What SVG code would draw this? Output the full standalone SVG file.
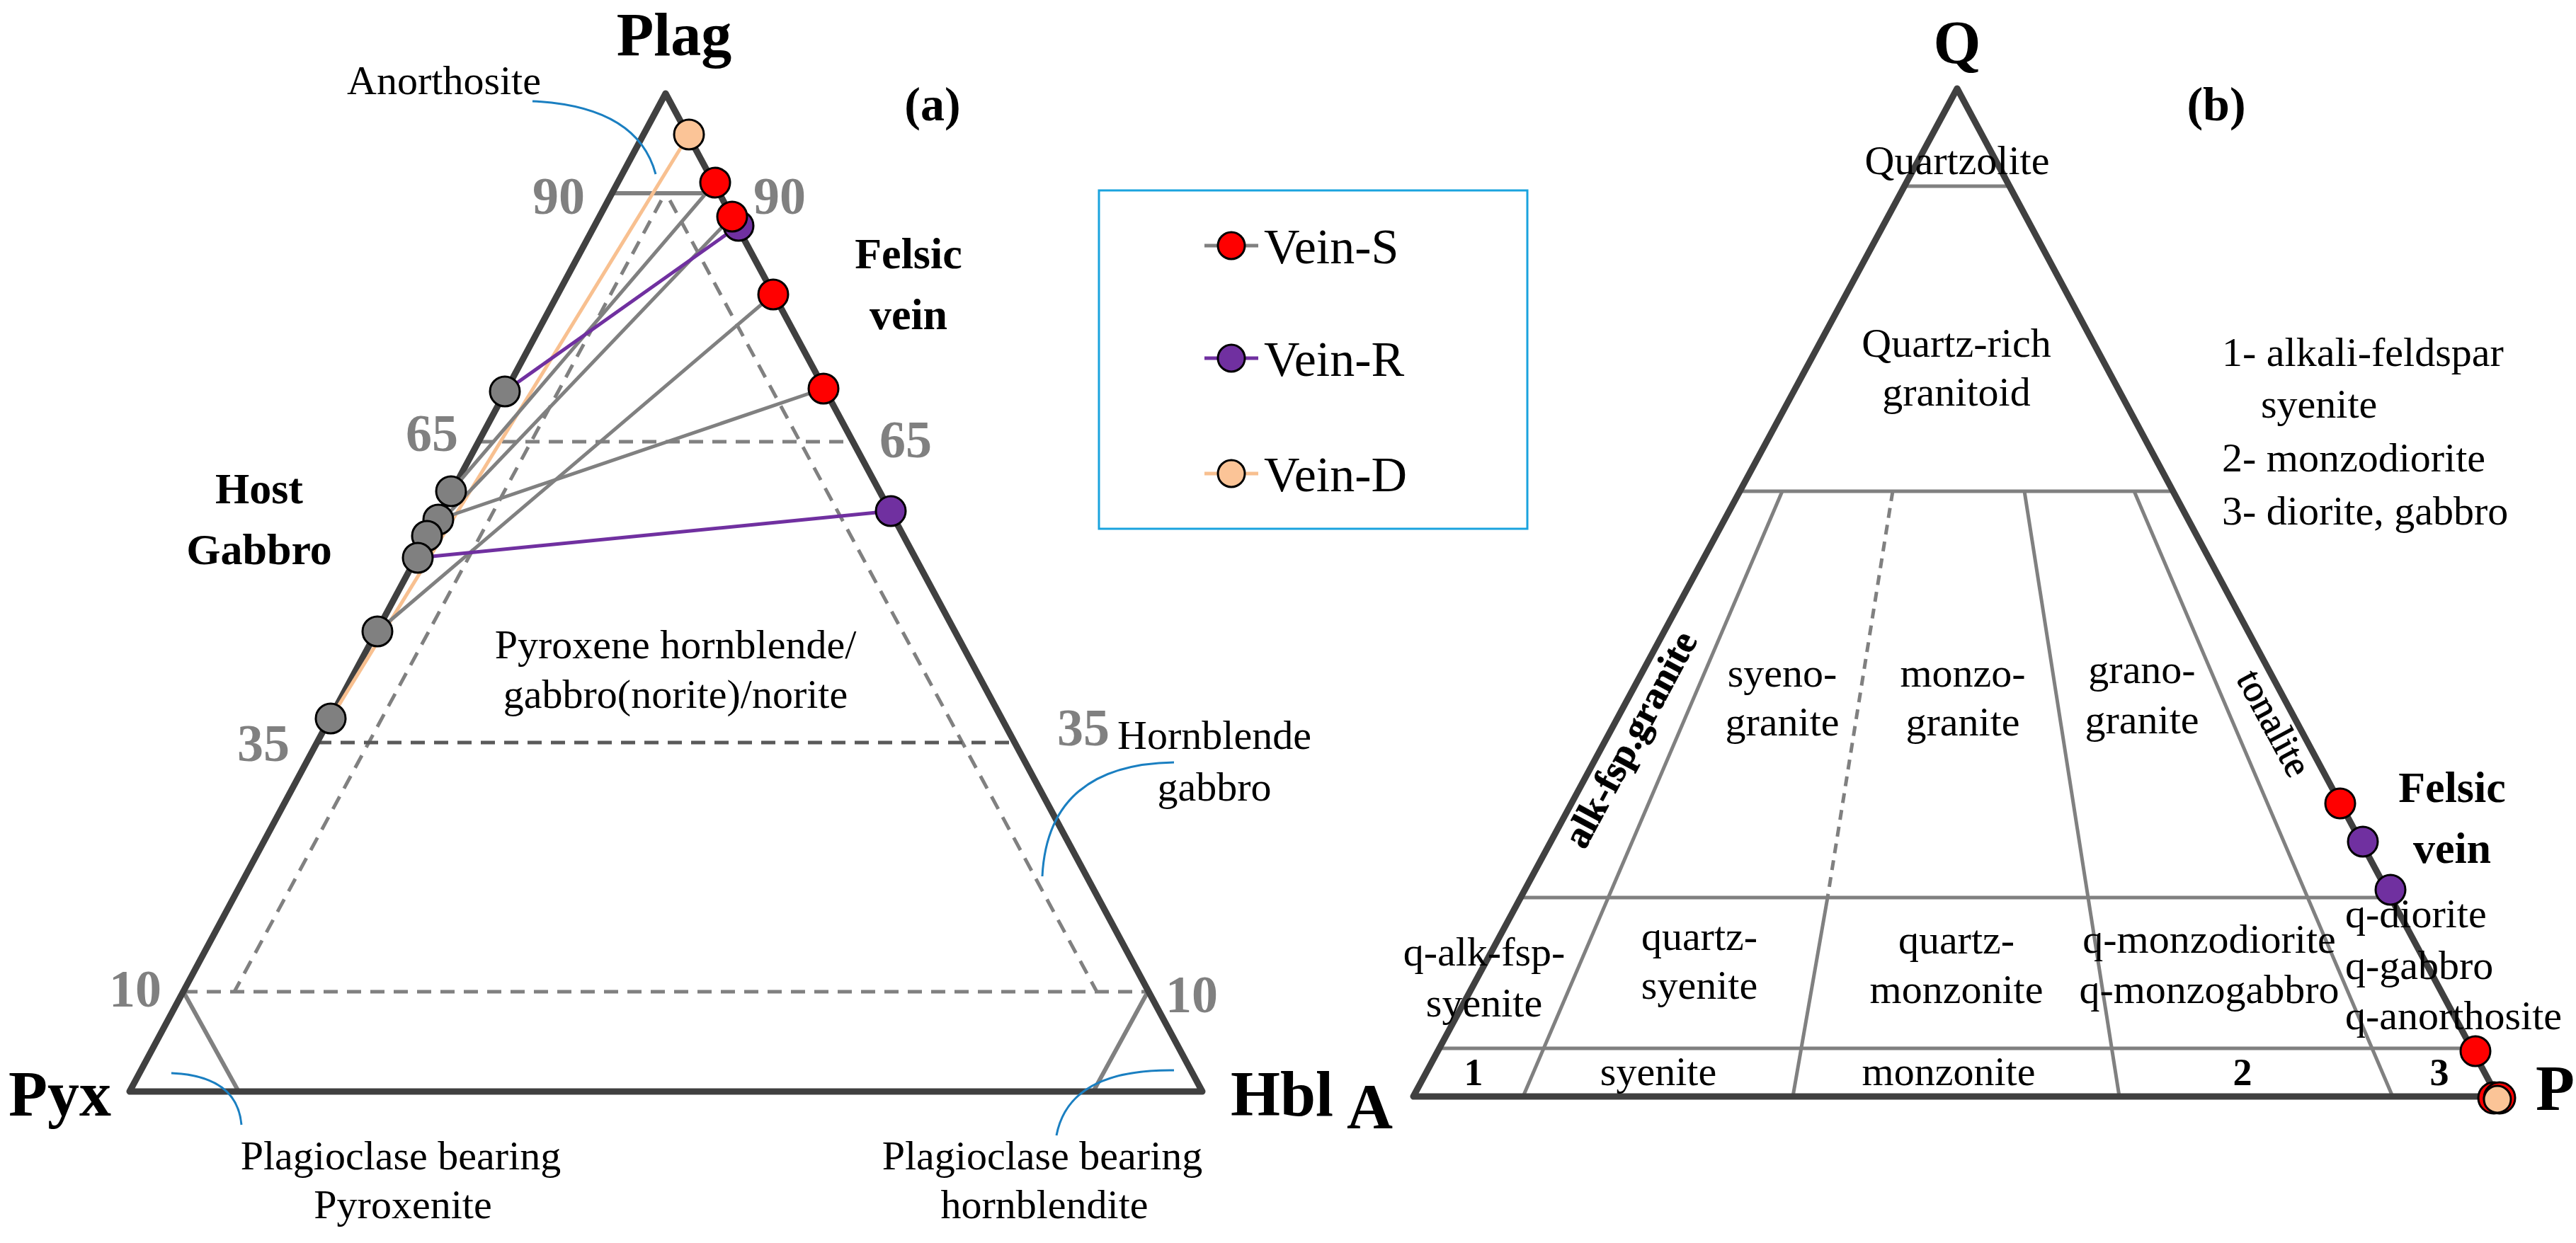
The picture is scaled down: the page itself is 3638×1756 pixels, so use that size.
<svg xmlns="http://www.w3.org/2000/svg" width="3638" height="1756" viewBox="0 0 3638 1756">
<style>
text{font-family:"Liberation Serif","Times New Roman",serif;fill:#000}
.t{font-size:58px}
.m{text-anchor:middle}
.b{font-weight:bold}
.num{font-size:74px;font-weight:bold;fill:#808080;text-anchor:middle}
.edge{fill:none;stroke:#404040;stroke-width:9;stroke-linejoin:round}
.gl{stroke:#808080;stroke-width:6;fill:none}
.dl{stroke:#808080;stroke-width:5;stroke-dasharray:20 13;fill:none}
.dd{stroke:#595959;stroke-width:5;stroke-dasharray:20 13;fill:none}
.il{stroke:#808080;stroke-width:5;fill:none}
.call{stroke:#1a7fc1;stroke-width:3;fill:none}
.pr{fill:#ff0000;stroke:#000;stroke-width:3}
.pp{fill:#7030a0;stroke:#000;stroke-width:3}
.po{fill:#fbc497;stroke:#000;stroke-width:3}
.pg{fill:#808080;stroke:#000;stroke-width:3}
.lg{stroke:#808080;stroke-width:5}
.lp{stroke:#7030a0;stroke-width:5}
.lo{stroke:#f8c090;stroke-width:5}
</style>
<g id="diagram-a">
<g id="frame-a">
<line class="dl" x1="934" y1="283" x2="331" y2="1401"/>
<line class="dl" x1="946" y1="283" x2="1549" y2="1401"/>
<line class="gl" x1="864" y1="273" x2="1000" y2="273"/>
<line class="dl" x1="676" y1="624" x2="1204" y2="624"/>
<line class="dd" x1="448" y1="1049" x2="1432" y2="1049"/>
<line class="dl" x1="259" y1="1401" x2="1621" y2="1401"/>
<line class="gl" x1="259" y1="1401" x2="337" y2="1542"/>
<line class="gl" x1="1621" y1="1401" x2="1544" y2="1542"/>
<polygon class="edge" points="940,132 183,1542 1698,1542"/>
</g>
<g id="labels-a">
<text x="952" y="78" class="m b" font-size="86">Plag</text>
<text x="1317" y="170" class="m b" font-size="68">(a)</text>
<text x="627" y="133" class="t m">Anorthosite</text>
<text x="789" y="302" class="num">90</text>
<text x="1101" y="302" class="num">90</text>
<text x="610" y="637" class="num">65</text>
<text x="1279" y="646" class="num">65</text>
<text x="372" y="1075" class="num">35</text>
<text x="1530" y="1053" class="num">35</text>
<text x="191" y="1422" class="num">10</text>
<text x="1683" y="1430" class="num">10</text>
<text x="366" y="711" class="m b" font-size="62">Host</text>
<text x="366" y="797" class="m b" font-size="62">Gabbro</text>
<text x="1283" y="379" class="m b" font-size="62">Felsic</text>
<text x="1283" y="465" class="m b" font-size="62">vein</text>
<text x="12" y="1576" class="b" font-size="90">Pyx</text>
<text x="1738" y="1576" class="b" font-size="90">Hbl</text>
<text x="954" y="930" class="t m">Pyroxene hornblende/</text>
<text x="954" y="1000" class="t m">gabbro(norite)/norite</text>
<text x="1715" y="1058" class="t m">Hornblende</text>
<text x="1715" y="1131" class="t m">gabbro</text>
<text x="566" y="1652" class="t m">Plagioclase bearing</text>
<text x="569" y="1721" class="t m">Pyroxenite</text>
<text x="1472" y="1652" class="t m">Plagioclase bearing</text>
<text x="1475" y="1721" class="t m">hornblendite</text>
</g>
<g id="callouts-a">
<path class="call" d="M752,143 Q900,150 926,246"/>
<path class="call" d="M1658,1077 Q1480,1080 1472,1238"/>
<path class="call" d="M242,1516 Q335,1520 341,1589"/>
<path class="call" d="M1658,1512 Q1510,1510 1492,1604"/>
</g>
<g id="connectors-a">
<line class="lo" x1="973" y1="190" x2="467" y2="1015"/>
<line class="lg" x1="1010" y1="258" x2="637" y2="694"/>
<line class="lg" x1="1034" y1="306" x2="603" y2="757"/>
<line class="lg" x1="1092" y1="416" x2="533" y2="892"/>
<line class="lg" x1="1163" y1="549" x2="619" y2="734"/>
<line class="lp" x1="1043" y1="319" x2="713" y2="553"/>
<line class="lp" x1="1258" y1="722" x2="590" y2="788"/>
</g>
<g id="points-a">
<circle class="pg" cx="713" cy="553" r="21"/>
<circle class="pg" cx="637" cy="694" r="21"/>
<circle class="pg" cx="619" cy="734" r="21"/>
<circle class="pg" cx="603" cy="757" r="21"/>
<circle class="pg" cx="590" cy="788" r="21"/>
<circle class="pg" cx="533" cy="892" r="21"/>
<circle class="pg" cx="467" cy="1015" r="21"/>
<circle class="po" cx="973" cy="190" r="21"/>
<circle class="pr" cx="1010" cy="258" r="21"/>
<circle class="pp" cx="1043" cy="319" r="21"/>
<circle class="pr" cx="1034" cy="306" r="21"/>
<circle class="pr" cx="1092" cy="416" r="21"/>
<circle class="pr" cx="1163" cy="549" r="21"/>
<circle class="pp" cx="1258" cy="722" r="21"/>
</g>
</g>
<g id="legend">
<rect x="1552" y="269" width="605" height="478" fill="none" stroke="#1aa3de" stroke-width="3"/>
<line class="lg" x1="1701" y1="347" x2="1777" y2="347"/>
<circle class="pr" cx="1739" cy="347" r="19"/>
<text x="1785" y="372" font-size="70">Vein-S</text>
<line class="lp" x1="1701" y1="506" x2="1777" y2="506"/>
<circle class="pp" cx="1739" cy="506" r="19"/>
<text x="1785" y="531" font-size="70">Vein-R</text>
<line class="lo" x1="1701" y1="669" x2="1777" y2="669"/>
<circle class="po" cx="1739" cy="669" r="19"/>
<text x="1785" y="694" font-size="70">Vein-D</text>
</g>
<g id="diagram-b">
<g id="frame-b">
<line class="il" x1="2690" y1="263" x2="2838" y2="263"/>
<line class="il" x1="2457" y1="694" x2="3069" y2="694"/>
<line class="il" x1="2148" y1="1268" x2="3376" y2="1268"/>
<line class="il" x1="2033" y1="1481" x2="3491" y2="1481"/>
<line class="il" x1="2517" y1="694" x2="2151" y2="1549"/>
<line class="il" x1="2673" y1="694" x2="2581" y2="1268" stroke-dasharray="14 10"/>
<line class="il" x1="2581" y1="1268" x2="2532" y2="1549"/>
<line class="il" x1="2859" y1="694" x2="2993" y2="1549"/>
<line class="il" x1="3014" y1="694" x2="3379" y2="1549"/>
<polygon class="edge" points="2764,125 1996,1549 3527,1549"/>
</g>
<g id="labels-b">
<text x="2764" y="89" class="m b" font-size="86">Q</text>
<text x="3130" y="170" class="m b" font-size="68">(b)</text>
<text x="2764" y="246" class="t m">Quartzolite</text>
<text x="2763" y="504" class="t m">Quartz-rich</text>
<text x="2763" y="573" class="t m">granitoid</text>
<text x="3138" y="517" class="t">1- alkali-feldspar</text>
<text x="3193" y="590" class="t">syenite</text>
<text x="3138" y="666" class="t">2- monzodiorite</text>
<text x="3138" y="741" class="t">3- diorite, gabbro</text>
<text transform="translate(2318,1053) rotate(-61.7)" class="m" font-size="54" font-weight="600" stroke="#000" stroke-width="0.8">alk-fsp.granite</text>
<text transform="translate(3196,1030) rotate(61.7)" class="m" font-size="54" stroke="#000" stroke-width="0.8">tonalite</text>
<text x="2517" y="970" class="t m">syeno-</text>
<text x="2517" y="1039" class="t m">granite</text>
<text x="2772" y="970" class="t m">monzo-</text>
<text x="2772" y="1039" class="t m">granite</text>
<text x="3025" y="965" class="t m">grano-</text>
<text x="3025" y="1036" class="t m">granite</text>
<text x="2096" y="1364" class="t m">q-alk-fsp-</text>
<text x="2096" y="1436" class="t m">syenite</text>
<text x="2400" y="1342" class="t m">quartz-</text>
<text x="2400" y="1411" class="t m">syenite</text>
<text x="2763" y="1347" class="t m">quartz-</text>
<text x="2763" y="1417" class="t m">monzonite</text>
<text x="3120" y="1346" class="t m">q-monzodiorite</text>
<text x="3120" y="1417" class="t m">q-monzogabbro</text>
<text x="3312" y="1310" class="t">q-diorite</text>
<text x="3312" y="1383" class="t">q-gabbro</text>
<text x="3312" y="1454" class="t">q-anorthosite</text>
<text x="2081" y="1533" class="m b" font-size="54">1</text>
<text x="2342" y="1533" class="t m">syenite</text>
<text x="2752" y="1533" class="t m">monzonite</text>
<text x="3167" y="1533" class="m b" font-size="54">2</text>
<text x="3445" y="1533" class="m b" font-size="54">3</text>
<text x="1902" y="1594" class="b" font-size="90">A</text>
<text x="3581" y="1568" class="b" font-size="90">P</text>
<text x="3463" y="1133" class="m b" font-size="62">Felsic</text>
<text x="3463" y="1219" class="m b" font-size="62">vein</text>
</g>
<g id="points-b">
<circle class="pr" cx="3305" cy="1135" r="21"/>
<circle class="pp" cx="3337" cy="1189" r="21"/>
<circle class="pp" cx="3376" cy="1257" r="21"/>
<circle class="pr" cx="3496" cy="1485" r="21"/>
<circle class="pr" cx="3522" cy="1551" r="22"/>
<circle class="pr" cx="3530" cy="1551" r="22"/>
<circle class="po" cx="3527" cy="1553" r="19"/>
</g>
</g>
</svg>
